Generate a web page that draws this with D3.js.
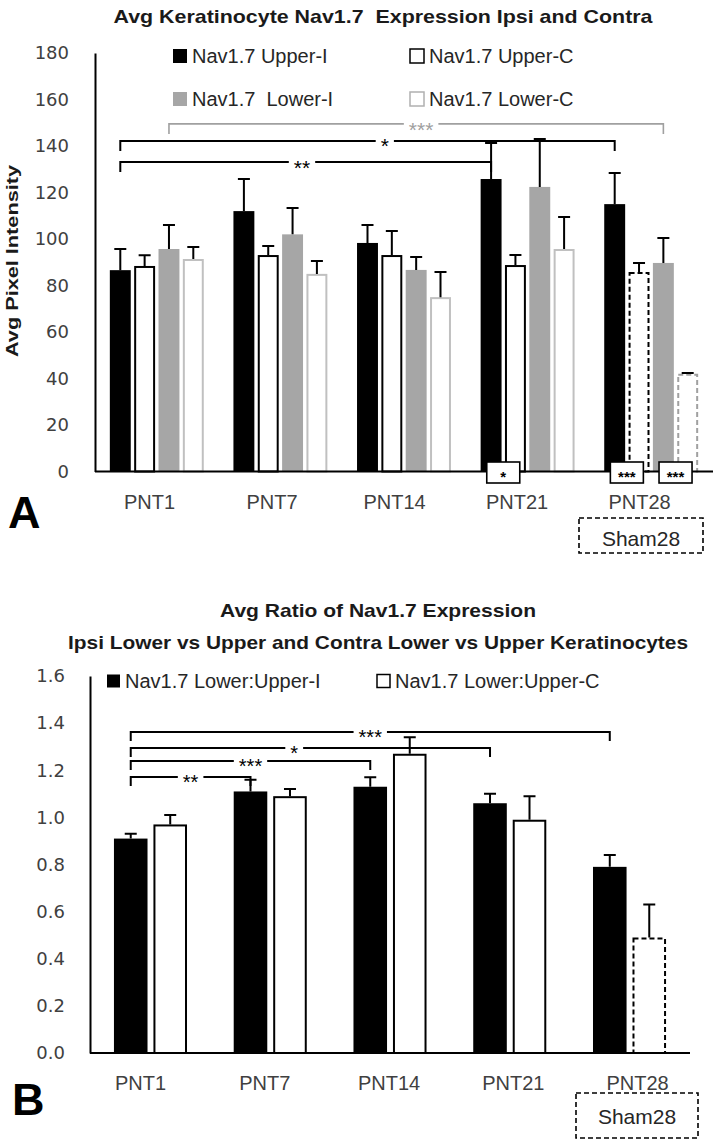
<!DOCTYPE html>
<html><head><meta charset="utf-8">
<script src="https://cdn.jsdelivr.net/npm/d3@7"></script>
<style>
body{margin:0;background:#fff}
text{font-family:"Liberation Sans",Arial,sans-serif;white-space:pre}
.tick text{font-family:"DejaVu Sans",sans-serif}
</style>
</head><body>
<svg id="c" width="714" height="1141"></svg>
<script>
// ---------- DATA ----------
const categories = ["PNT1","PNT7","PNT14","PNT21","PNT28"];

// Panel A
const titleA = "Avg Keratinocyte Nav1.7  Expression Ipsi and Contra";
const yLabelA = "Avg Pixel Intensity";
const seriesA = ["Nav1.7 Upper-I","Nav1.7 Upper-C","Nav1.7  Lower-I","Nav1.7 Lower-C"];
const upperI    = [86.6, 112.0, 98.3, 125.8, 115.0];
const upperIErr = [9.1, 13.8, 7.7, 15.5, 13.4];
const upperC    = [88.4, 93.1, 93.1, 88.8, 85.8];
const upperCErr = [4.6, 3.9, 10.3, 4.3, 3.9];
const lowerI    = [95.7, 102.0, 86.7, 122.4, 89.7];
const lowerIErr = [10.3, 11.3, 5.6, 20.6, 10.7];
const lowerC    = [91.4, 85.0, 75.0, 95.7, 42.0];
const lowerCErr = [5.2, 5.5, 10.8, 13.8, 0.4];
const yTicksA = [0,20,40,60,80,100,120,140,160,180];
const bracketsA = [
  {from:["PNT1",2], to:["PNT28",2], y:149.5, label:"***", gray:true,  at:0.51},
  {from:["PNT1",0], to:["PNT28",0], y:142.2, label:"*",   gray:false, at:0.535},
  {from:["PNT1",0], to:["PNT21",0], y:133.1, label:"**",  gray:false, at:0.49}
];
const sigBoxesA = [
  {cat:"PNT21", pair:[0,1], label:"*"},
  {cat:"PNT28", pair:[0,1], label:"***"},
  {cat:"PNT28", pair:[2,3], label:"***"}
];
const shamLabel = "Sham28";

// Panel B
const titleB1 = "Avg Ratio of Nav1.7 Expression";
const titleB2 = "Ipsi Lower vs Upper and Contra Lower vs Upper Keratinocytes";
const seriesB = ["Nav1.7 Lower:Upper-I","Nav1.7 Lower:Upper-C"];
const ratioI    = [0.91, 1.11, 1.13, 1.06, 0.79];
const ratioIErr = [0.02, 0.05, 0.04, 0.04, 0.05];
const ratioC    = [0.97, 1.09, 1.27, 0.99, 0.49];
const ratioCErr = [0.04, 0.03, 0.07, 0.10, 0.14];
const yTicksB = [0,0.2,0.4,0.6,0.8,1.0,1.2,1.4,1.6];
const bracketsB = [
  {from:["PNT1",0], to:["PNT28",0], y:1.362, label:"***", at:0.5},
  {from:["PNT1",0], to:["PNT21",0], y:1.294, label:"*",   at:0.455},
  {from:["PNT1",0], to:["PNT14",0], y:1.239, label:"***", at:0.5},
  {from:["PNT1",0], to:["PNT7",0],  y:1.171, label:"**",  at:0.5}
];

// ---------- DRAW ----------
const svg = d3.select("#c");

function drawBars(g, x, xin, y, vals, errs, styles, dashed) {
  vals.forEach((arr, si) => {
    const st = styles[si];
    arr.forEach((v, ci) => {
      const cat = categories[ci];
      const isDash = dashed.some(d => d[0] === ci && d[1] === si);
      const bx = x(cat) + xin(si), bw = xin.bandwidth();
      const sw = st.stroke === "none" ? 0 : 2;
      g.append("rect")
        .attr("x", bx + sw/2).attr("y", y(v) + sw/2)
        .attr("width", bw - sw).attr("height", y(0) - y(v) - sw/2)
        .attr("fill", st.fill)
        .attr("stroke", isDash ? (st.dashStroke || st.stroke) : st.stroke)
        .attr("stroke-width", sw)
        .attr("stroke-dasharray", isDash ? "5,3" : null);
      const cx = bx + bw/2, e = errs[si][ci];
      g.append("path")
        .attr("d", `M${cx},${y(v)}V${y(v+e)}M${cx-6},${y(v+e)}H${cx+6}`)
        .attr("stroke", "#000").attr("stroke-width", 2).attr("fill","none");
    });
  });
}

function drawBrackets(g, list, x, xin, y, drop, fs) {
  list.forEach(b => {
    const x1 = x(b.from[0]) + xin(b.from[1]) + xin.bandwidth()/2;
    const x2 = x(b.to[0]) + xin(b.to[1]) + xin.bandwidth()/2;
    const yy = y(b.y);
    const col = b.gray ? "#a0a0a0" : "#000";
    g.append("path").attr("d", `M${x1},${yy+drop}V${yy}H${x2}V${yy+drop}`)
      .attr("fill","none").attr("stroke",col).attr("stroke-width", b.gray ? 1.6 : 2);
    const tx = x1 + (x2 - x1) * b.at;
    const gap = g.append("rect");
    const t = g.append("text").attr("x", tx).attr("y", yy + fs*0.6)
      .attr("text-anchor","middle").attr("font-size", fs)
      .attr("fill", b.gray ? "#a0a0a0" : "#000").text(b.label);
    const w = t.node().getComputedTextLength();
    gap.attr("x", tx - w/2 - 5).attr("y", yy - 4).attr("width", w + 10).attr("height", 8).attr("fill","#fff");
  });
}

function legend(g, items) {
  items.forEach(it => {
    g.append("rect").attr("x", it.x).attr("y", it.y - it.s/2).attr("width", it.s).attr("height", it.s)
      .attr("fill", it.fill).attr("stroke", it.stroke).attr("stroke-width", it.stroke === "none" ? 0 : 1.5);
    g.append("text").attr("x", it.x + it.s + 5).attr("y", it.y + 7).attr("font-size", 20)
      .attr("fill", "#262626").text(it.label);
  });
}

// ===== Panel A =====
{
  const g = svg.append("g");
  const x = d3.scaleBand().domain(categories).range([95, 713]).paddingInner(0.24).paddingOuter(0.12);
  const xin = d3.scaleBand().domain(d3.range(seriesA.length)).range([0, x.bandwidth()]).paddingInner(0.14);
  const y = d3.scaleLinear().domain([0, 180]).range([471.5, 53]);
  const xl = d3.scalePoint().domain(categories).range([149, 639]);

  g.append("text").attr("x", 383).attr("y", 23).attr("text-anchor","middle")
    .attr("font-size", 19).attr("font-weight","bold").attr("fill","#1a1a1a")
    .attr("textLength", 539).attr("lengthAdjust","spacingAndGlyphs").text(titleA);

  const styles = [
    {fill:"#000", stroke:"none"},
    {fill:"#fff", stroke:"#000"},
    {fill:"#a6a6a6", stroke:"none"},
    {fill:"#fff", stroke:"#c0c0c0", dashStroke:"#a0a0a0"}
  ];
  drawBars(g, x, xin, y, [upperI, upperC, lowerI, lowerC], [upperIErr, upperCErr, lowerIErr, lowerCErr], styles, [[4,1],[4,3]]);
  drawBrackets(g, bracketsA, x, xin, y, 10, 21);

  const ya = g.append("g").attr("transform","translate(95,0)")
    .call(d3.axisLeft(y).tickValues(yTicksA).tickSize(0).tickSizeOuter(0).tickPadding(26));
  ya.select(".domain").attr("stroke","#000").attr("stroke-width",2);
  ya.selectAll("text").attr("font-size",18).attr("fill","#404040");

  const xa = g.append("g").attr("transform","translate(0,471.5)")
    .call(d3.axisBottom(xl).tickSize(0).tickPadding(23));
  xa.select(".domain").remove();
  xa.selectAll("text").style("font-family","'Liberation Sans',Arial,sans-serif").attr("font-size",20).attr("fill","#404040");
  g.append("line").attr("x1", x.range()[0]).attr("x2", x.range()[1]).attr("y1", y(0)).attr("y2", y(0))
    .attr("stroke","#000").attr("stroke-width",2);

  g.append("text").attr("transform","translate(18,261) rotate(-90)").attr("text-anchor","middle")
    .attr("font-size",17).attr("font-weight","bold").attr("fill","#1a1a1a")
    .attr("textLength",192).attr("lengthAdjust","spacingAndGlyphs").text(yLabelA);

  legend(g, [
    {x:173, y:56, s:14, fill:"#000", stroke:"none", label:seriesA[0]},
    {x:410, y:56, s:14, fill:"#fff", stroke:"#000", label:seriesA[1]},
    {x:173, y:99, s:14, fill:"#a6a6a6", stroke:"none", label:seriesA[2]},
    {x:410, y:99, s:14, fill:"#fff", stroke:"#b0b0b0", label:seriesA[3]}
  ]);

  sigBoxesA.forEach(b => {
    const c0 = x(b.cat) + xin(b.pair[0]) + xin.bandwidth()/2;
    const c1 = x(b.cat) + xin(b.pair[1]) + xin.bandwidth()/2;
    const cx = (c0 + c1)/2;
    g.append("rect").attr("x", cx - 16.5).attr("y", 462).attr("width", 33).attr("height", 21)
      .attr("fill","#fff").attr("stroke","#000").attr("stroke-width",1.6);
    g.append("text").attr("x", cx).attr("y", 472.5 + 9).attr("text-anchor","middle")
      .attr("font-size",15).attr("font-weight","bold").attr("fill","#000").text(b.label);
  });

  g.append("rect").attr("x",579).attr("y",518).attr("width",124).attr("height",35)
    .attr("fill","none").attr("stroke","#000").attr("stroke-width",1.6).attr("stroke-dasharray","5,3");
  g.append("text").attr("x",641).attr("y",546).attr("text-anchor","middle")
    .attr("font-size",21).attr("fill","#262626").text(shamLabel);

  g.append("text").attr("x",8).attr("y",528).attr("font-size",45).attr("font-weight","bold")
    .attr("fill","#000").text("A");
}

// ===== Panel B =====
{
  const g = svg.append("g");
  const x = d3.scaleBand().domain(categories).range([90, 690]).paddingInner(0.39).paddingOuter(0.2);
  const xin = d3.scaleBand().domain(d3.range(seriesB.length)).range([0, x.bandwidth()]).paddingInner(0.15);
  const y = d3.scaleLinear().domain([0, 1.6]).range([1053, 676]);
  const xl = d3.scalePoint().domain(categories).range([140, 637]);

  g.append("text").attr("x", 378).attr("y", 617).attr("text-anchor","middle")
    .attr("font-size", 19).attr("font-weight","bold").attr("fill","#1a1a1a")
    .attr("textLength", 316).attr("lengthAdjust","spacingAndGlyphs").text(titleB1);
  g.append("text").attr("x", 378).attr("y", 649).attr("text-anchor","middle")
    .attr("font-size", 19).attr("font-weight","bold").attr("fill","#1a1a1a")
    .attr("textLength", 620).attr("lengthAdjust","spacingAndGlyphs").text(titleB2);

  const styles = [
    {fill:"#000", stroke:"none"},
    {fill:"#fff", stroke:"#000"}
  ];
  drawBars(g, x, xin, y, [ratioI, ratioC], [ratioIErr, ratioCErr], styles, [[4,1]]);
  drawBrackets(g, bracketsB, x, xin, y, 9, 20);

  const ya = g.append("g").attr("transform","translate(90,0)")
    .call(d3.axisLeft(y).tickValues(yTicksB).tickFormat(d3.format(".1f")).tickSize(0).tickSizeOuter(0).tickPadding(25));
  ya.select(".domain").attr("stroke","#000").attr("stroke-width",2);
  ya.selectAll("text").attr("font-size",18).attr("fill","#404040");

  const xa = g.append("g").attr("transform","translate(0,1053)")
    .call(d3.axisBottom(xl).tickSize(0).tickPadding(23));
  xa.select(".domain").remove();
  xa.selectAll("text").style("font-family","'Liberation Sans',Arial,sans-serif").attr("font-size",20).attr("fill","#404040");
  g.append("line").attr("x1", x.range()[0]).attr("x2", x.range()[1]).attr("y1", y(0)).attr("y2", y(0))
    .attr("stroke","#000").attr("stroke-width",2);

  legend(g, [
    {x:107, y:681, s:13, fill:"#000", stroke:"none", label:seriesB[0]},
    {x:377, y:681, s:13, fill:"#fff", stroke:"#000", label:seriesB[1]}
  ]);

  g.append("rect").attr("x",576).attr("y",1093).attr("width",122).attr("height",45)
    .attr("fill","none").attr("stroke","#000").attr("stroke-width",1.6).attr("stroke-dasharray","5,3");
  g.append("text").attr("x",637).attr("y",1124).attr("text-anchor","middle")
    .attr("font-size",21).attr("fill","#262626").text(shamLabel);

  g.append("text").attr("x",12).attr("y",1115).attr("font-size",45).attr("font-weight","bold")
    .attr("fill","#000").text("B");
}
</script>
</body></html>
